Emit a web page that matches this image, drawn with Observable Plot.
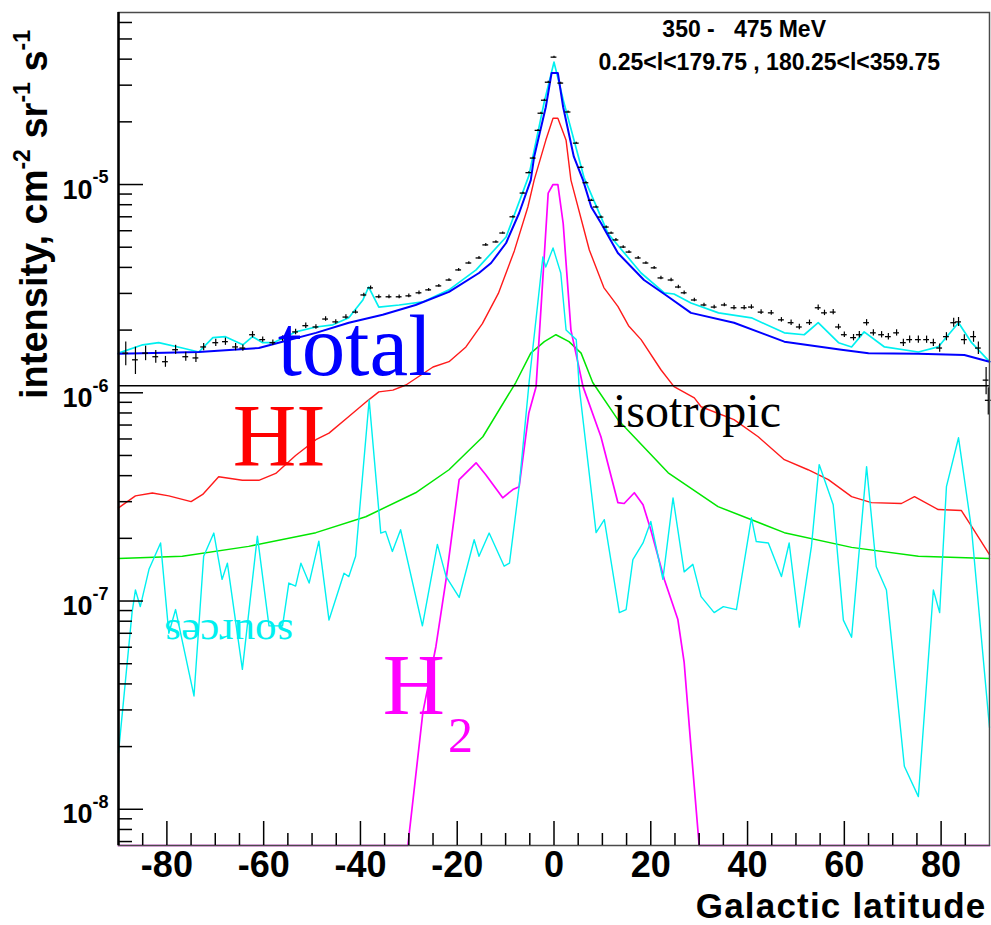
<!DOCTYPE html>
<html>
<head>
<meta charset="utf-8">
<script src="https://cdn.jsdelivr.net/npm/d3@7"></script>
<script src="https://cdn.jsdelivr.net/npm/@observablehq/plot@0.6"></script>
<style>
  html, body { margin: 0; padding: 0; background: #fff; }
  svg { display: block; }
</style>
</head>
<body>
<div id="chart"></div>
<script>
// ---------- data (Galactic latitude [deg], intensity [cm^-2 sr^-1 s^-1]) ----------
// measured points: [latitude, intensity, relative error]
const dataPoints = [
  [-88.5,1.55e-6,0.13],[-86.5,1.44e-6,0.15],[-84.4,1.55e-6,0.08],[-82.3,1.49e-6,0.07],[-80.3,1.41e-6,0.06],
  [-78.2,1.61e-6,0.05],[-76.1,1.49e-6,0.05],[-74,1.47e-6,0.05],[-72.4,1.66e-6,0.04],[-69.9,1.74e-6,0.04],
  [-67.9,1.76e-6,0.04],[-65.8,1.66e-6,0.04],[-64.3,1.64e-6,0.035],[-62.3,1.90e-6,0.035],[-60.2,1.80e-6,0.03],
  [-58.1,1.74e-6,0.03],[-56.1,1.82e-6,0.03],[-53.4,1.96e-6,0.03],[-51.3,2.10e-6,0.03],[-49.2,2.07e-6,0.025],
  [-47.2,2.26e-6,0.025],[-45.1,2.19e-6,0.025],[-43,2.31e-6,0.025],[-41,2.44e-6,0.02],[-39.3,2.95e-6,0.02],
  [-37.9,3.19e-6,0.02],[-36.2,2.89e-6,0.02],[-34.1,2.89e-6,0.02],[-32,2.89e-6,0.02],[-30,2.92e-6,0.02],
  [-27.9,3.02e-6,0.02],[-25.9,3.12e-6,0.015],[-23.8,3.26e-6,0.015],[-21.7,3.48e-6,0.015],[-19.7,3.89e-6,0.015],
  [-17.6,4.20e-6,0.015],[-15.5,4.44e-6,0.015],[-14.1,5.13e-6,0.015],[-12,5.30e-6,0.012],[-10.6,5.85e-6,0.012],
  [-8.5,7.0e-6,0.012],[-6.4,9.1e-6,0.01],[-5.2,1.14e-5,0.01],[-4.3,1.34e-5,0.01],[-3.3,1.82e-5,0.01],
  [-2.7,2.20e-5,0.01],[-2,2.54e-5,0.01],[-1.2,3.10e-5,0.01],[0,4.09e-5,0.01],[1.4,3.07e-5,0.01],
  [2.9,2.23e-5,0.01],[4.6,1.58e-5,0.01],[5.6,1.21e-5,0.01],[6.6,1.02e-5,0.01],[7.7,8.4e-6,0.012],
  [8.7,7.80e-6,0.012],[9.7,6.98e-6,0.012],[10.8,6.25e-6,0.012],[11.8,5.85e-6,0.012],[12.8,5.42e-6,0.015],
  [14.3,5.01e-6,0.015],[15.5,4.74e-6,0.015],[17.4,4.44e-6,0.015],[19,4.20e-6,0.015],[20.7,3.98e-6,0.015],
  [22.1,3.56e-6,0.02],[24.2,3.48e-6,0.02],[25.7,3.22e-6,0.02],[26.9,3.02e-6,0.02],[29,2.79e-6,0.02],
  [31,2.64e-6,0.02],[33.1,2.58e-6,0.02],[35.2,2.64e-6,0.02],[37.2,2.56e-6,0.025],[39.3,2.56e-6,0.025],
  [40.8,2.58e-6,0.025],[42.8,2.44e-6,0.025],[44.9,2.42e-6,0.025],[47,2.24e-6,0.025],[49,2.17e-6,0.03],
  [50.7,2.07e-6,0.03],[52.8,2.17e-6,0.03],[54.6,2.56e-6,0.03],[55.9,2.42e-6,0.03],[57.7,2.44e-6,0.03],
  [58.8,2.07e-6,0.03],[60,1.90e-6,0.03],[61.9,1.84e-6,0.035],[63.1,1.90e-6,0.035],[64.6,2.17e-6,0.035],
  [66,1.94e-6,0.035],[67.7,1.90e-6,0.035],[69.1,1.86e-6,0.035],[70.8,1.94e-6,0.035],[72.2,1.74e-6,0.04],
  [73.5,1.80e-6,0.04],[75.3,1.80e-6,0.04],[77,1.80e-6,0.04],[78.4,1.74e-6,0.04],[79.7,1.64e-6,0.045],
  [81.1,1.86e-6,0.045],[82.6,2.17e-6,0.05],[83.6,2.19e-6,0.05],[84.8,1.80e-6,0.055],[86.7,1.86e-6,0.06],
  [87.7,1.64e-6,0.07],[89.3,1.15e-6,0.15],[89.75,9.2e-7,0.15]
];
const binHalfWidth = 0.6;

// total model (blue)
const totalSeries = [
  [-90,1.54e-6],[-73.4,1.57e-6],[-61,1.64e-6],[-56.9,1.74e-6],[-49.2,1.94e-6],[-42.4,2.17e-6],
  [-35.4,2.37e-6],[-28.6,2.64e-6],[-21.7,3.05e-6],[-15.5,3.76e-6],[-13,4.2e-6],[-9.9,5.24e-6],
  [-7.2,7.3e-6],[-4.8,1.05e-5],[-4.1,1.36e-5],[-1.7,2.35e-5],[-0.5,3.43e-5],[0.8,3.43e-5],
  [1.9,2.35e-5],[4.1,1.36e-5],[6,1.05e-5],[7.7,7.8e-6],[9.7,6.53e-6],[13.2,4.69e-6],[18.6,3.48e-6],
  [23.6,2.89e-6],[28.3,2.42e-6],[37.2,2.17e-6],[47.6,1.76e-6],[59.4,1.61e-6],[65,1.55e-6],
  [75.3,1.54e-6],[84.8,1.52e-6],[90,1.41e-6]
];

// total model + sources (cyan, upper)
const totalSrcSeries = [
  [-90,1.55e-6],[-85,1.70e-6],[-81.7,1.74e-6],[-76.8,1.64e-6],[-73.4,1.57e-6],[-70.5,1.84e-6],
  [-67.9,1.86e-6],[-64.3,1.70e-6],[-62.3,1.86e-6],[-60.2,1.74e-6],[-58,1.74e-6],[-53.4,1.96e-6],
  [-49.2,2.07e-6],[-45.7,2.12e-6],[-42.4,2.29e-6],[-39.5,2.79e-6],[-38.3,3.22e-6],[-36.2,2.58e-6],
  [-32,2.64e-6],[-27.1,2.73e-6],[-21.7,3.12e-6],[-16.1,3.89e-6],[-9.9,5.6e-6],[-5.2,1.1e-5],
  [-2,2.5e-5],[0,3.87e-5],[2,2.5e-5],[6.2,1.08e-5],[11.2,5.8e-6],[18,3.76e-6],[22.8,3.02e-6],
  [24.8,2.98e-6],[28.3,2.70e-6],[34,2.42e-6],[40.8,2.29e-6],[47.6,1.94e-6],[51.7,1.90e-6],
  [54.6,2.17e-6],[58.8,1.74e-6],[61.5,1.66e-6],[64.1,1.96e-6],[68.3,1.66e-6],[75.3,1.57e-6],
  [79.4,1.66e-6],[83.6,2.17e-6],[86.3,1.74e-6],[90,1.41e-6]
];

// HI (red)
const hiSeries = [
  [-90,2.8e-7],[-86.5,3.2e-7],[-83,3.3e-7],[-79.6,3.2e-7],[-75,3.0e-7],[-72.6,3.25e-7],[-69.3,3.95e-7],
  [-64.4,3.8e-7],[-61,3.8e-7],[-57.5,4.1e-7],[-53.4,5.0e-7],[-49.2,5.95e-7],[-46.5,6.4e-7],[-42.4,7.7e-7],
  [-38.3,9.25e-7],[-36.2,1.01e-6],[-33.3,1.03e-6],[-30.6,1.09e-6],[-25,1.33e-6],[-21.7,1.41e-6],
  [-18.2,1.66e-6],[-14.8,2.15e-6],[-11.5,3.0e-6],[-8.2,4.8e-6],[-5.4,7.8e-6],[-4.1,1.05e-5],
  [-1.7,1.63e-5],[-0.2,2.08e-5],[0.8,2.08e-5],[2.5,1.63e-5],[3.5,1.05e-5],[7.3,4.85e-6],[10.3,3.2e-6],
  [13.2,2.6e-6],[15.4,2.1e-6],[18,1.80e-6],[22.1,1.29e-6],[24.8,1.07e-6],[29,9.46e-7],[30.4,8.57e-7],
  [37.2,7.43e-7],[42.2,6.15e-7],[47.6,4.77e-7],[52.5,4.27e-7],[56.7,3.83e-7],[61.5,3.17e-7],
  [65.6,2.97e-7],[71.8,2.94e-7],[74.5,3.17e-7],[79.4,2.75e-7],[84.2,2.72e-7],[86.3,2.28e-7],[90,1.67e-7]
];

// H2 (magenta); 0 = below the plotted range
const h2Series = [
  [-90,0],[-30.6,0],[-30.2,6.7e-9],[-27.1,2.92e-8],[-24.4,6.05e-8],[-22.3,1.27e-7],[-19.6,3.83e-7],
  [-16.1,4.61e-7],[-14.1,4.04e-7],[-10.6,3.13e-7],[-8.5,3.43e-7],[-7.2,3.54e-7],[-5.2,8.0e-7],
  [-3.7,1.07e-6],[-1.2,9.1e-6],[-0.2,1.0e-5],[0.8,1.0e-5],[1.9,6.5e-6],[3.5,2.0e-6],[6,1.07e-6],
  [9.7,6.15e-7],[13.2,2.97e-7],[14.5,2.94e-7],[16.6,3.31e-7],[18.4,2.9e-7],[20,2.2e-7],[22.8,1.27e-7],
  [25.6,8.15e-8],[26.9,5.07e-8],[28.3,2.0e-8],[30,6.7e-9],[30.4,0],[90,0]
];

// inverse Compton (green)
const icSeries = [
  [-90,1.6e-7],[-76.8,1.64e-7],[-63.1,1.83e-7],[-49.2,2.13e-7],[-38.9,2.54e-7],[-28.6,3.31e-7],
  [-21.7,4.27e-7],[-14.7,6.15e-7],[-7.9,1.12e-6],[-4.8,1.55e-6],[-2,1.76e-6],[0.4,1.9e-6],[3.1,1.76e-6],
  [5.6,1.55e-6],[8,1.12e-6],[13.2,7.43e-7],[23.6,4.13e-7],[33.9,2.84e-7],[47.6,2.13e-7],[61.5,1.81e-7],
  [75.3,1.64e-7],[90,1.6e-7]
];

// sources (cyan, lower)
const srcSeries = [
  [-90,1.87e-8],[-87.2,8.8e-8],[-86.5,1.13e-7],[-85.5,9.4e-8],[-83.7,1.42e-7],[-81.3,1.90e-7],
  [-79.6,7.0e-8],[-78.2,9.1e-8],[-74.4,3.5e-8],[-72.4,1.64e-7],[-70.3,2.12e-7],[-68.6,1.27e-7],
  [-67.5,1.52e-7],[-64.4,4.7e-8],[-61.3,2.05e-7],[-58.9,7.6e-8],[-56.1,7.6e-8],[-54.8,1.22e-7],
  [-53.4,1.18e-7],[-52.3,1.52e-7],[-50.6,1.22e-7],[-48.6,1.94e-7],[-46.5,8.1e-8],[-43.4,1.36e-7],
  [-42.4,1.31e-7],[-41,1.64e-7],[-38.2,9.25e-7],[-35.8,2.12e-7],[-34.8,2.16e-7],[-33.4,1.73e-7],
  [-31.7,2.20e-7],[-27.2,7.6e-8],[-24.1,1.87e-7],[-22.3,1.31e-7],[-19.6,1.04e-7],[-16.5,1.97e-7],
  [-15.5,1.64e-7],[-13.4,2.12e-7],[-10.3,1.47e-7],[-9.2,1.52e-7],[-7.2,3.56e-7],[-5.1,1.15e-6],
  [-2.3,4.49e-6],[-1.7,4.02e-6],[-0.2,4.96e-6],[1.4,3.76e-6],[2.5,2.0e-6],[4.6,1.80e-6],[5.2,1.07e-6],
  [8.7,2.13e-7],[10.4,2.46e-7],[13.5,8.8e-8],[14.9,9.1e-8],[16.3,1.58e-7],[18.4,1.90e-7],[20,2.41e-7],
  [22.5,1.27e-7],[24.6,3.13e-7],[26.9,1.38e-7],[28.7,1.50e-7],[30.4,1.05e-7],[33.1,8.8e-8],[35,9.4e-8],
  [37.7,9.1e-8],[40.8,2.51e-7],[41.8,1.93e-7],[44.3,1.90e-7],[47,1.31e-7],[48.6,1.90e-7],[50.7,7.5e-8],
  [53.2,1.83e-7],[54.8,4.52e-7],[57.7,2.90e-7],[59.8,8.1e-8],[61.5,6.7e-8],[64.6,4.42e-7],[66.6,1.46e-7],
  [68.7,1.13e-7],[72.4,1.61e-8],[75.3,1.15e-8],[78.4,1.13e-7],[79.7,8.8e-8],[81.1,3.54e-7],[83.6,6.08e-7],
  [86.3,2.20e-7],[90,2.47e-8]
];

// isotropic level
const isoLevel = 1.08e-6;

// axes
const xDomain = [-90, 90];
const yDomain = [6.7e-9, 6.7e-5];
const xMajorTicks = [-80, -60, -40, -20, 0, 20, 40, 60, 80];
const xMinorTicks = [-85,-75,-70,-65,-55,-50,-45,-35,-30,-25,-15,-10,-5,5,10,15,25,30,35,45,50,55,65,70,75,85];
const yMajorTicks = [1e-8, 1e-7, 1e-6, 1e-5];
const yMinorTicks = [7e-9,8e-9,9e-9,2e-8,3e-8,4e-8,5e-8,6e-8,7e-8,8e-8,9e-8,2e-7,3e-7,4e-7,5e-7,6e-7,7e-7,8e-7,9e-7,
                     2e-6,3e-6,4e-6,5e-6,6e-6,7e-6,8e-6,9e-6,2e-5,3e-5,4e-5,5e-5,6e-5];

// texts
const xTitle = "Galactic latitude";
const yTitleParts = ["intensity, cm", "-2", " sr", "-1", " s", "-1"];
const energyLabel = "350 -\u00a0\u00a0 475 MeV";
const longitudeLabel = "0.25<l<179.75 , 180.25<l<359.75";

// ---------- chart ----------
const sans = "'Liberation Sans', Arial, Helvetica, sans-serif";
const serif = "'Liberation Serif', 'Times New Roman', Times, serif";
const X = d => d[0], Y = d => d[1];

const chart = Plot.plot({
  width: 991,
  height: 925,
  marginLeft: 118,
  marginRight: 2,
  marginTop: 12,
  marginBottom: 80,
  x: {domain: xDomain},
  y: {type: "log", domain: yDomain},
  style: {fontFamily: sans, background: "#fff", color: "#000", overflow: "visible"},
  marks: [
    Plot.line(icSeries, {x: X, y: Y, stroke: "#00e600", strokeWidth: 1.5}),
    Plot.line(hiSeries, {x: X, y: Y, stroke: "#ff1a1a", strokeWidth: 1.4}),
    Plot.line(h2Series, {x: X, y: d => Math.max(d[1], yDomain[0]), stroke: "#ff00ff", strokeWidth: 1.7}),
    Plot.line(srcSeries, {x: X, y: Y, stroke: "#00f0f0", strokeWidth: 1.4}),
    Plot.ruleY([isoLevel], {stroke: "#000", strokeWidth: 1.6}),
    Plot.line(totalSrcSeries, {x: X, y: Y, stroke: "#00f0f0", strokeWidth: 1.7}),
    Plot.line(totalSeries, {x: X, y: Y, stroke: "#0000ff", strokeWidth: 2}),
    Plot.ruleX(dataPoints, {x: X, y1: d => d[1] * (1 - d[2]), y2: d => d[1] * (1 + d[2]), stroke: "#000", strokeWidth: 1.2}),
    Plot.ruleY(dataPoints, {y: Y, x1: d => d[0] - binHalfWidth, x2: d => d[0] + binHalfWidth, stroke: "#000", strokeWidth: 1.3}),

    // frame & axis lines
    Plot.frame({stroke: "#4a4a4a", strokeWidth: 1.5}),
    Plot.ruleX([xDomain[0]], {stroke: "#000", strokeWidth: 2.5}),

    // y ticks (inward)
    Plot.axisY(yMajorTicks, {anchor: "left", tickSize: -25, fill: "none", stroke: "#000", strokeWidth: 1.5, label: null}),
    Plot.axisY(yMinorTicks, {anchor: "left", tickSize: -14, fill: "none", stroke: "#000", strokeWidth: 1.5, label: null}),
    // y tick labels "10" + exponent
    Plot.axisY(yMajorTicks, {anchor: "left", tickSize: 0, tickPadding: 0, tickFormat: () => "10",
      fontSize: 27, fontWeight: "bold", fill: "#000", dx: -26, dy: 5.5, label: null}),
    Plot.axisY(yMajorTicks, {anchor: "left", tickSize: 0, tickPadding: 0,
      tickFormat: d => String(Math.round(Math.log10(d))), textAnchor: "start",
      fontSize: 18, fontWeight: "bold", fill: "#000", dx: -26, dy: -7, label: null}),

    // x ticks (inward)
    Plot.axisX(xMajorTicks, {anchor: "bottom", tickSize: -24, fill: "none", stroke: "#000", strokeWidth: 1.5, label: null}),
    Plot.axisX(xMinorTicks, {anchor: "bottom", tickSize: -12, fill: "none", stroke: "#000", strokeWidth: 1.5, label: null}),
    Plot.axisX(xMajorTicks, {anchor: "bottom", tickSize: 0, tickPadding: 6, tickFormat: d => String(d),
      fontSize: 36, fontWeight: "bold", fill: "#000", label: null}),

    // x title
    Plot.text([xTitle], {frameAnchor: "bottom-right", textAnchor: "end", lineAnchor: "bottom",
      dx: -3, dy: 72.5, fontSize: 35, fontWeight: "bold", fill: "#000"}),

    // top-right labels
    Plot.text([energyLabel], {x: 39.3, y: 5.1e-5, textAnchor: "middle", lineAnchor: "bottom",
      fontSize: 23, fontWeight: "bold", fill: "#000"}),
    Plot.text([longitudeLabel], {x: 44.5, y: 3.54e-5, textAnchor: "middle", lineAnchor: "bottom",
      fontSize: 23, fontWeight: "bold", fill: "#000"}),

    // component labels
    Plot.text(["total"], {x: -57.1, y: 1.22e-6, textAnchor: "start", lineAnchor: "bottom",
      fontFamily: serif, fontSize: 87, fill: "#0000ff"}),
    Plot.text(["HI"], {x: -66.4, y: 4.51e-7, textAnchor: "start", lineAnchor: "bottom",
      fontFamily: serif, fontSize: 88, fill: "#ff0000"}),
    Plot.text(["isotropic"], {x: 12.2, y: 6.87e-7, textAnchor: "start", lineAnchor: "bottom",
      fontFamily: serif, fontSize: 48, fill: "#000"}),
    Plot.text(["sources"], {x: -67.2, y: 7.0e-8, textAnchor: "middle", lineAnchor: "middle", rotate: 180,
      fontFamily: serif, fontSize: 43, fill: "#00f0f0"}),
    Plot.text(["H"], {x: -35.4, y: 2.86e-8, textAnchor: "start", lineAnchor: "bottom",
      fontFamily: serif, fontSize: 86, fill: "#ff00ff"}),
    Plot.text(["2"], {x: -21.9, y: 1.88e-8, textAnchor: "start", lineAnchor: "bottom",
      fontFamily: serif, fontSize: 50, fill: "#ff00ff"})
  ]
});

// widen the x title slightly, as in the original
const svg = d3.select(chart);
svg.selectAll("text").filter(function() { return this.textContent === xTitle; })
  .style("letter-spacing", "1.2px");

// y-axis title with superscripts
const yt = svg.append("text")
  .attr("transform", "translate(47,30) rotate(-90)")
  .attr("text-anchor", "end")
  .attr("font-family", sans)
  .attr("font-weight", "bold")
  .attr("font-size", 38)
  .attr("fill", "#000")
  .style("white-space", "pre");
yTitleParts.forEach((t, i) => {
  const sup = i % 2 === 1;
  yt.append("tspan")
    .attr("dy", i === 0 ? 0 : (sup ? -17 : 17))
    .attr("font-size", sup ? 23 : 38)
    .text(t);
});

document.getElementById("chart").appendChild(chart);
</script>
</body>
</html>
